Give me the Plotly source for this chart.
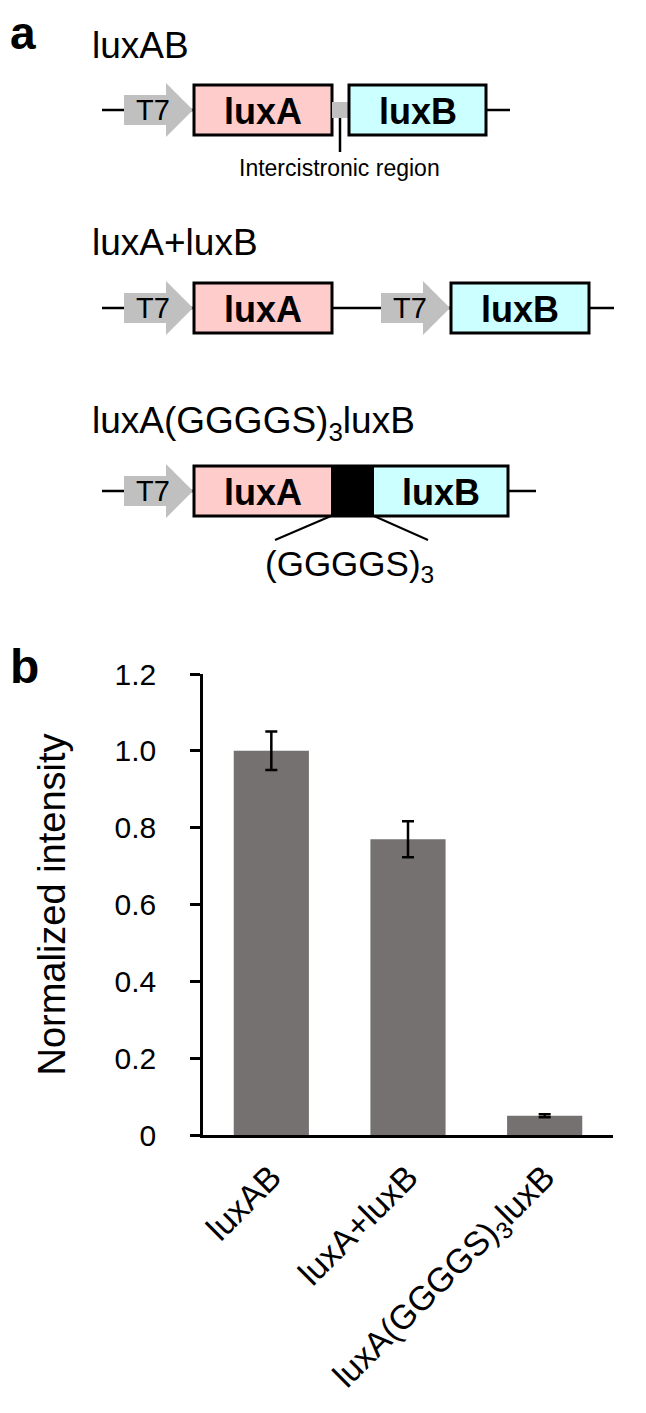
import plotly.graph_objects as go

FONT = "Liberation Sans, Arial, sans-serif"

# panel b data
constructs = ["luxAB", "luxA+luxB", "luxA(GGGGS)<sub>3</sub>luxB"]
intensity = [1.0, 0.77, 0.05]
intensity_err = [0.05, 0.047, 0.004]
y_tickvals = [0, 0.2, 0.4, 0.6, 0.8, 1.0, 1.2]
y_ticktext = ["0", "0.2", "0.4", "0.6", "0.8", "1.0", "1.2"]

PINK = "#FFCCCC"
CYAN = "#CCFFFF"
GRAY = "#C0C0C0"
BAR = "#767171"

# page is 646x1413, the html body adds an 8px margin around the figure
PAGE_W, PAGE_H, PAD = 646, 1413, 8
W, H = PAGE_W - 2 * PAD, PAGE_H - 2 * PAD

shapes = []
annots = []


def wire(x0, x1, yc):
    shapes.append(dict(type="line", xref="x2", yref="y2", x0=x0, x1=x1, y0=yc, y1=yc,
                       line=dict(color="black", width=2.5)))


def promoter(x0, yc):
    p = (f"M {x0} {yc-15} L {x0+42} {yc-15} L {x0+42} {yc-27} L {x0+69} {yc} "
         f"L {x0+42} {yc+27} L {x0+42} {yc+15} L {x0} {yc+15} Z")
    shapes.append(dict(type="path", xref="x2", yref="y2", path=p, fillcolor=GRAY,
                       line=dict(width=0)))
    annots.append(dict(x=x0 + 29, y=yc, text="T7", font=dict(size=29, color="black")))


def box(x0, x1, yc, fill, border=True):
    shapes.append(dict(type="rect", xref="x2", yref="y2", x0=x0, x1=x1, y0=yc-25, y1=yc+25,
                       fillcolor=fill,
                       line=dict(color="black", width=3 if border else 0)))


def gene(x0, x1, yc, name):
    annots.append(dict(x=(x0 + x1) / 2, y=yc + 1, text=f"<b>{name}</b>",
                       font=dict(size=36, color="black")))


def label(x, y, text, size=37, anchor="left", bold=False):
    t = f"<b>{text}</b>" if bold else text
    annots.append(dict(x=x, y=y, text=t, xanchor=anchor, font=dict(size=size, color="black")))


# --- panel a: construct diagrams (page pixel coordinates on x2/y2) ---
label(PAD, 33, "a", size=46, bold=True)

# luxAB
y1 = 110
label(90, 45, "luxAB")
wire(102, 510, y1)
promoter(124, y1)
box(194, 332, y1, PINK)
shapes.append(dict(type="rect", xref="x2", yref="y2", x0=332, x1=349, y0=y1-8, y1=y1+8,
                   fillcolor=GRAY, line=dict(width=0)))
box(349, 486, y1, CYAN)
gene(194, 332, y1, "luxA")
gene(349, 486, y1, "luxB")
shapes.append(dict(type="line", xref="x2", yref="y2", x0=340, x1=340, y0=y1+8, y1=y1+42,
                   line=dict(color="black", width=2.5)))
annots.append(dict(x=339, y=168, text="Intercistronic region", font=dict(size=23, color="black")))

# luxA+luxB
y2 = 308
label(90, 242, "luxA+luxB")
wire(102, 614, y2)
promoter(124, y2)
box(194, 332, y2, PINK)
gene(194, 332, y2, "luxA")
promoter(381, y2)
box(451, 589, y2, CYAN)
gene(451, 589, y2, "luxB")

# luxA(GGGGS)3luxB
y3 = 491
label(90, 423, "luxA(GGGGS)<sub>3</sub>luxB")
wire(102, 536, y3)
promoter(124, y3)
box(194, 331, y3, PINK, border=False)
box(331, 374, y3, "black", border=False)
box(374, 508, y3, CYAN, border=False)
shapes.append(dict(type="rect", xref="x2", yref="y2", x0=194, x1=508, y0=y3-25, y1=y3+25,
                   line=dict(color="black", width=3)))
gene(194, 331, y3, "luxA")
gene(374, 508, y3, "luxB")
shapes.append(dict(type="line", xref="x2", yref="y2", x0=331, x1=275, y0=y3+25, y1=y3+49,
                   line=dict(color="black", width=2)))
shapes.append(dict(type="line", xref="x2", yref="y2", x0=374, x1=428, y0=y3+25, y1=y3+49,
                   line=dict(color="black", width=2)))
annots.append(dict(x=349, y=566, text="(GGGGS)<sub>3</sub>", font=dict(size=35, color="black")))

# --- panel b label ---
label(PAD, 666, "b", size=48, bold=True)

for a in annots:
    a.setdefault("xref", "x2")
    a.setdefault("yref", "y2")
    a.setdefault("showarrow", False)
    a.setdefault("yanchor", "middle")

fig = go.Figure()
fig.add_trace(go.Bar(
    x=constructs, y=intensity,
    marker_color=BAR, marker_line_width=0,
    error_y=dict(type="data", array=intensity_err, color="black", thickness=2.5, width=6),
    showlegend=False,
))
fig.add_trace(go.Scatter(x=[], y=[], xaxis="x2", yaxis="y2", showlegend=False))

# plot area of panel b in page pixels: x 203..613, y 674 (1.2) .. 1135 (0)
fig.update_layout(
    width=W, height=H, autosize=False,
    margin=dict(l=0, r=0, t=0, b=0),
    paper_bgcolor="white", plot_bgcolor="rgba(0,0,0,0)",
    font=dict(family=FONT, color="black"),
    bargap=0.45,
    xaxis=dict(domain=[(203 - PAD) / W, (613 - PAD) / W], anchor="y", automargin=False,
               showline=True, linecolor="black", linewidth=2.5,
               ticks="", tickangle=-45, tickfont=dict(size=34),
               ticklabelstandoff=6, showgrid=False, zeroline=False),
    yaxis=dict(domain=[(PAGE_H - PAD - 1135) / H, (PAGE_H - PAD - 674) / H], anchor="x",
               automargin=False,
               range=[0, 1.2], tickvals=y_tickvals, ticktext=y_ticktext,
               showline=True, linecolor="black", linewidth=2.5,
               ticks="outside", ticklen=10, tickwidth=2.5, tickcolor="black",
               tickfont=dict(size=30), ticklabelstandoff=28,
               title=dict(text="Normalized intensity", font=dict(size=38), standoff=38),
               showgrid=False, zeroline=False),
    xaxis2=dict(domain=[0, 1], range=[PAD, PAD + W], anchor="y2", visible=False,
                fixedrange=True, automargin=False),
    yaxis2=dict(domain=[0, 1], range=[PAD + H, PAD], anchor="x2", visible=False,
                fixedrange=True, automargin=False),
    shapes=shapes,
    annotations=annots,
)

fig.write_html("out.html")
